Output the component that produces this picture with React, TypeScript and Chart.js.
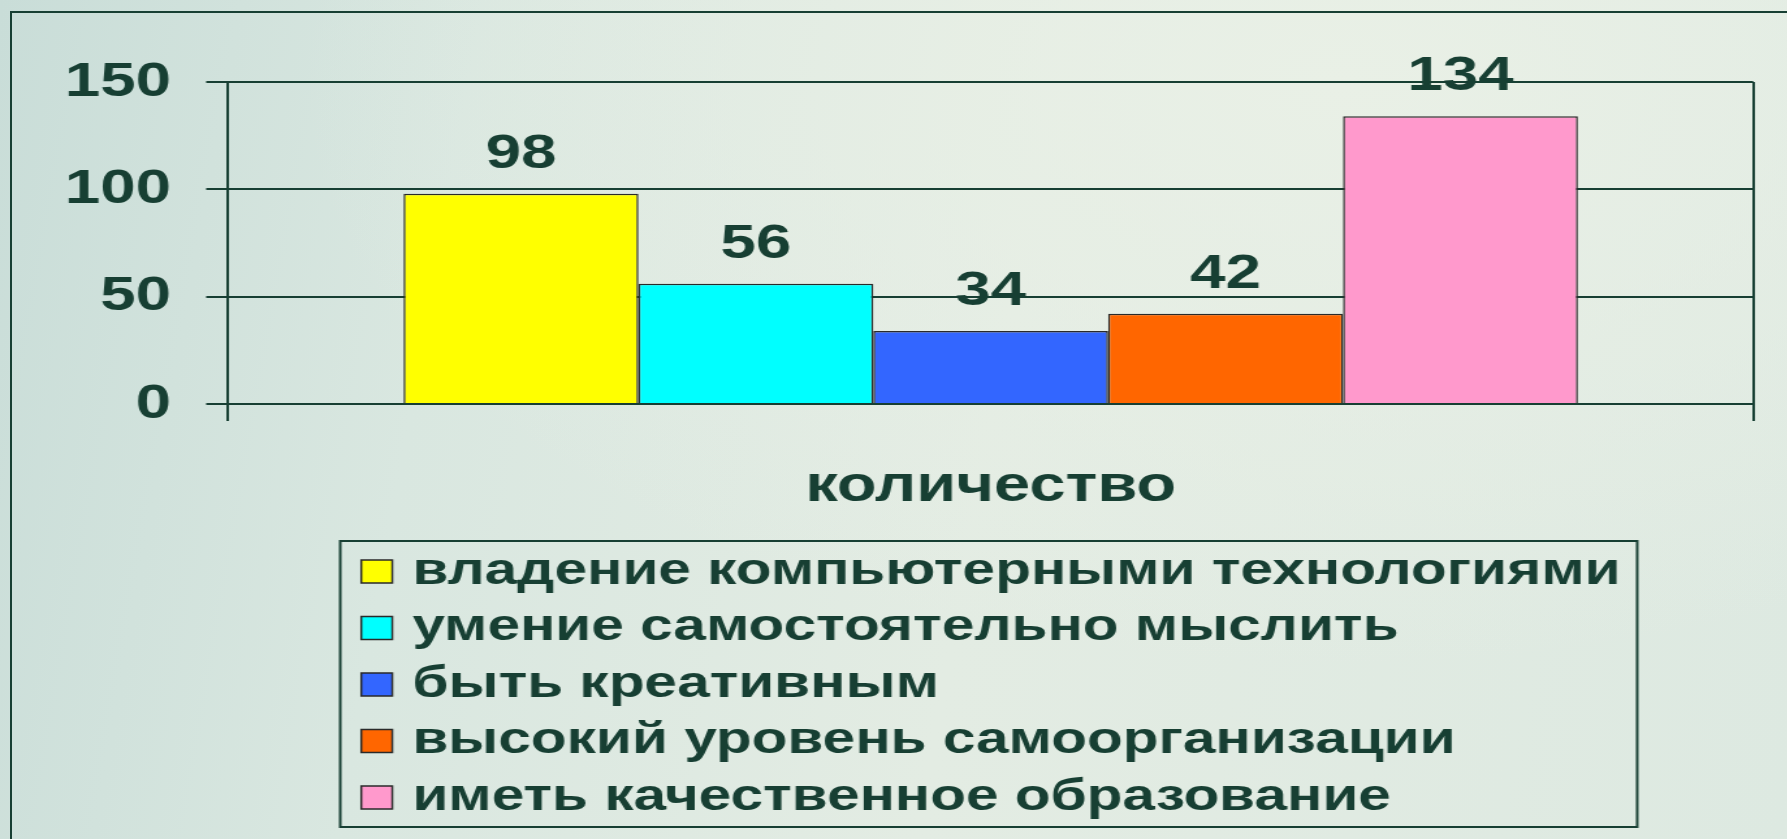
import React, { useEffect, useRef } from "react";
import { Chart, registerables } from "chart.js";

Chart.register(...registerables);

// ---- data ----
const categories = ["количество"];
const seriesLabels = [
  "владение компьютерными технологиями",
  "умение самостоятельно мыслить",
  "быть креативным",
  "высокий уровень самоорганизации",
  "иметь качественное образование",
];
const seriesValues = [98, 56, 34, 42, 134];
const seriesColors = ["#ffff00", "#00ffff", "#3366ff", "#ff6600", "#ff99cc"];
const yTicks = [0, 50, 100, 150];

// ---- layout (the original picture is horizontally stretched) ----
const S = 1.3;
const FULL_W = 1787;
const FULL_H = 839;
const W = FULL_W / S;
const fx = (x: number) => x / S;
const INK = "#173f33";
const FONT = "'Liberation Sans', Arial, Helvetica, sans-serif";

const valueLabelPlugin = {
  id: "valueLabels",
  afterDatasetsDraw(chart: any) {
    const ctx = chart.ctx;
    ctx.save();
    ctx.fillStyle = INK;
    ctx.font = `bold 49px ${FONT}`;
    ctx.textAlign = "center";
    ctx.textBaseline = "alphabetic";
    chart.data.datasets.forEach((ds: any, i: number) => {
      const meta = chart.getDatasetMeta(i);
      meta.data.forEach((el: any, j: number) => {
        ctx.fillText(String(ds.data[j]), el.x, el.y - 26);
      });
    });
    ctx.restore();
  },
};

const boxLegendPlugin = {
  id: "boxLegend",
  afterDraw(chart: any) {
    const ctx = chart.ctx;
    ctx.save();
    const left = fx(340);
    const right = fx(1636);
    const top = 541;
    const bottom = 827;
    ctx.strokeStyle = INK;
    ctx.lineWidth = 2;
    ctx.strokeRect(left, top, right - left, bottom - top);
    ctx.font = `bold 45px ${FONT}`;
    ctx.textAlign = "left";
    ctx.textBaseline = "alphabetic";
    chart.data.datasets.forEach((ds: any, i: number) => {
      const cy = 571.5 + i * 56.5;
      ctx.fillStyle = ds.backgroundColor;
      ctx.fillRect(fx(361), cy - 11.5, fx(31), 23);
      ctx.strokeStyle = "#2a2a2a";
      ctx.lineWidth = 1.5;
      ctx.strokeRect(fx(361), cy - 11.5, fx(31), 23);
      ctx.fillStyle = INK;
      ctx.fillText(ds.label, fx(412), cy + 12);
    });
    ctx.restore();
  },
};

export default function App() {
  const canvasRef = useRef<HTMLCanvasElement | null>(null);

  useEffect(() => {
    if (!canvasRef.current) return;
    const chart = new Chart(canvasRef.current, {
      type: "bar",
      data: {
        labels: categories,
        datasets: seriesLabels.map((label, i) => ({
          label,
          data: [seriesValues[i]],
          backgroundColor: seriesColors[i],
          borderColor: "#2a2a2a",
          borderWidth: 1.5,
          barPercentage: 1,
          categoryPercentage: 0.77,
        })),
      },
      options: {
        responsive: true,
        maintainAspectRatio: false,
        animation: false,
        devicePixelRatio: 1,
        layout: {
          padding: { top: 82, right: W - fx(1752), left: 0, bottom: 0 },
        },
        plugins: {
          legend: { display: false },
          tooltip: { enabled: false },
          title: { display: false },
        },
        scales: {
          x: {
            type: "category",
            offset: true,
            grid: {
              display: true,
              offset: true,
              drawOnChartArea: true,
              drawTicks: true,
              tickLength: 17,
              color: INK,
              lineWidth: 2,
            },
            border: { display: true, color: INK, width: 2 },
            ticks: {
              color: INK,
              padding: 36,
              font: { family: FONT, size: 50, weight: "bold" },
              maxRotation: 0,
            },
            afterFit: (s: any) => {
              s.height = FULL_H - 404;
            },
          },
          y: {
            min: 0,
            max: 150,
            afterBuildTicks: (s: any) => {
              s.ticks = yTicks.map((v) => ({ value: v }));
            },
            grid: {
              color: INK,
              lineWidth: 2,
              drawTicks: true,
              tickLength: fx(22),
            },
            border: { display: true, color: INK, width: 2 },
            ticks: {
              color: INK,
              padding: 27,
              font: { family: FONT, size: 49, weight: "bold" },
            },
            afterFit: (s: any) => {
              s.width = fx(228);
            },
          },
        },
      },
      plugins: [valueLabelPlugin, boxLegendPlugin],
    } as any);
    return () => chart.destroy();
  }, []);

  return (
    <div
      style={{
        position: "fixed",
        left: 0,
        top: 0,
        width: FULL_W,
        height: FULL_H,
        overflow: "hidden",
        background:
          "radial-gradient(ellipse at 75% 10%, #e9f0e6 0%, rgba(233,240,230,0) 55%), linear-gradient(100deg, #c9ddd8 0%, #d9e7e0 25%, #e3ece3 55%, #dde9e1 100%)",
      }}
    >
      <div
        style={{
          position: "absolute",
          left: 10,
          top: 11,
          width: FULL_W + 20,
          height: FULL_H + 20,
          borderLeft: `2px solid ${INK}`,
          borderTop: `2px solid ${INK}`,
          boxSizing: "border-box",
        }}
      />
      <div
        style={{
          position: "absolute",
          left: 0,
          top: 0,
          width: W,
          height: FULL_H,
          transform: `scaleX(${S})`,
          transformOrigin: "0 0",
        }}
      >
        <canvas ref={canvasRef} />
      </div>
    </div>
  );
}
